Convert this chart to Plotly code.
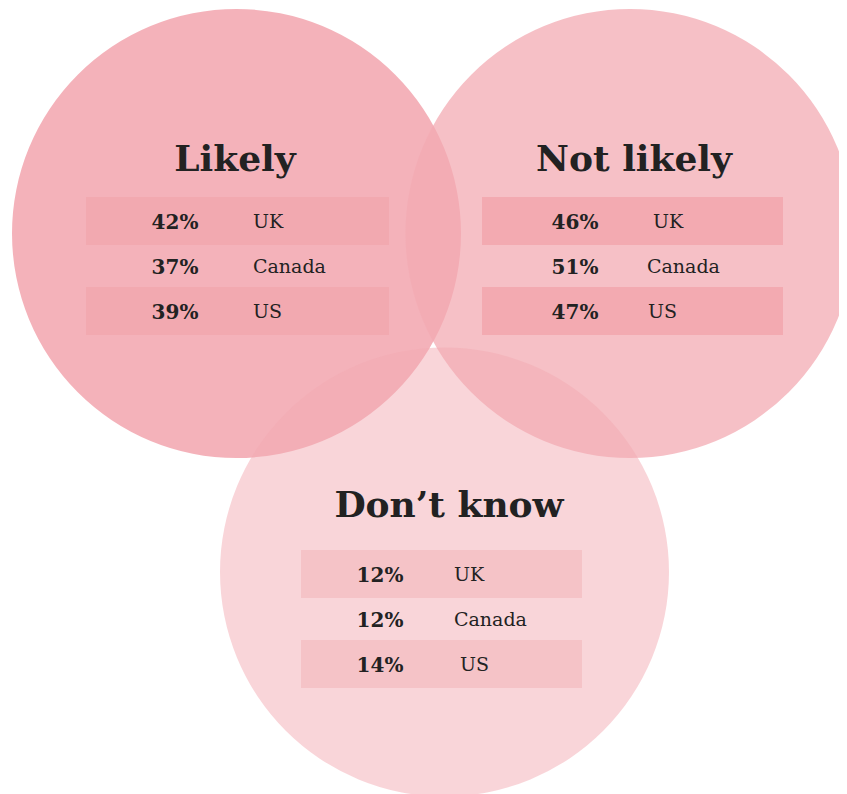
import plotly.graph_objects as go

# ---- data ----
groups = ["Likely", "Not likely", "Don\u2019t know"]
countries = ["UK", "Canada", "US"]
likely = [42, 37, 39]
not_likely = [46, 51, 47]
dont_know = [12, 12, 14]
values = [likely, not_likely, dont_know]

# ---- layout geometry (page pixel space; page body has an 8px margin) ----
W, H = 847, 794
OFF = 8
R = 224.5
centers = [(236.5, 233.5), (630, 233.5), (444.5, 572)]
circle_alpha = [0.90, 0.74, 0.49]
base = "243,170,178"
strip_colors = ["rgb(242,169,176)", "rgb(243,170,177)", "rgb(245,195,199)"]
title_x = [235, 634, 449]
title_y = [162, 162, 508]
row_y = [[221, 266, 311], [221, 266, 311], [574, 619, 664]]
text_dy = 2.5
strip_x = [(86, 389), (482, 783), (301, 582)]
pct_x = [175, 575, 380]
lab_x = [[253, 253, 253], [653, 647, 648], [454, 454, 460]]

fig = go.Figure()
shapes = []
for (cx, cy), a in zip(centers, circle_alpha):
    shapes.append(dict(type="circle", xref="x", yref="y",
                       x0=cx - R, x1=cx + R, y0=cy - R, y1=cy + R,
                       fillcolor=f"rgba({base},{a})", line=dict(width=0), layer="below"))
for i in range(3):
    x0, x1 = strip_x[i]
    for r in (0, 2):
        y = row_y[i][r]
        shapes.append(dict(type="rect", xref="x", yref="y",
                           x0=x0, x1=x1, y0=y - 24, y1=y + 24,
                           fillcolor=strip_colors[i], line=dict(width=0), layer="below"))

serif = "DejaVu Serif"
ink = "#222222"
for i, g in enumerate(groups):
    fig.add_trace(go.Scatter(x=[title_x[i]], y=[title_y[i]], mode="text", text=[f"<b>{g}</b>"],
                             textfont=dict(family=serif, size=36, color=ink),
                             textposition="middle center", hoverinfo="skip"))
    ys = [y + text_dy for y in row_y[i]]
    fig.add_trace(go.Scatter(x=[pct_x[i]] * 3, y=ys, mode="text",
                             text=[f"<b>{v}%</b>" for v in values[i]],
                             textfont=dict(family=serif, size=20, color=ink),
                             textposition="middle center", hoverinfo="skip"))
    fig.add_trace(go.Scatter(x=lab_x[i], y=ys, mode="text",
                             text=countries,
                             textfont=dict(family=serif, size=19, color=ink),
                             textposition="middle right", hoverinfo="skip"))

fig.update_layout(
    width=W - OFF, height=H - OFF, margin=dict(l=0, r=0, t=0, b=0),
    paper_bgcolor="white", plot_bgcolor="white", showlegend=False,
    shapes=shapes,
    xaxis=dict(range=[OFF, W], visible=False, fixedrange=True),
    yaxis=dict(range=[H, OFF], visible=False, fixedrange=True),
)
fig.write_html("out.html", post_script="document.body.style.overflow='hidden';")
